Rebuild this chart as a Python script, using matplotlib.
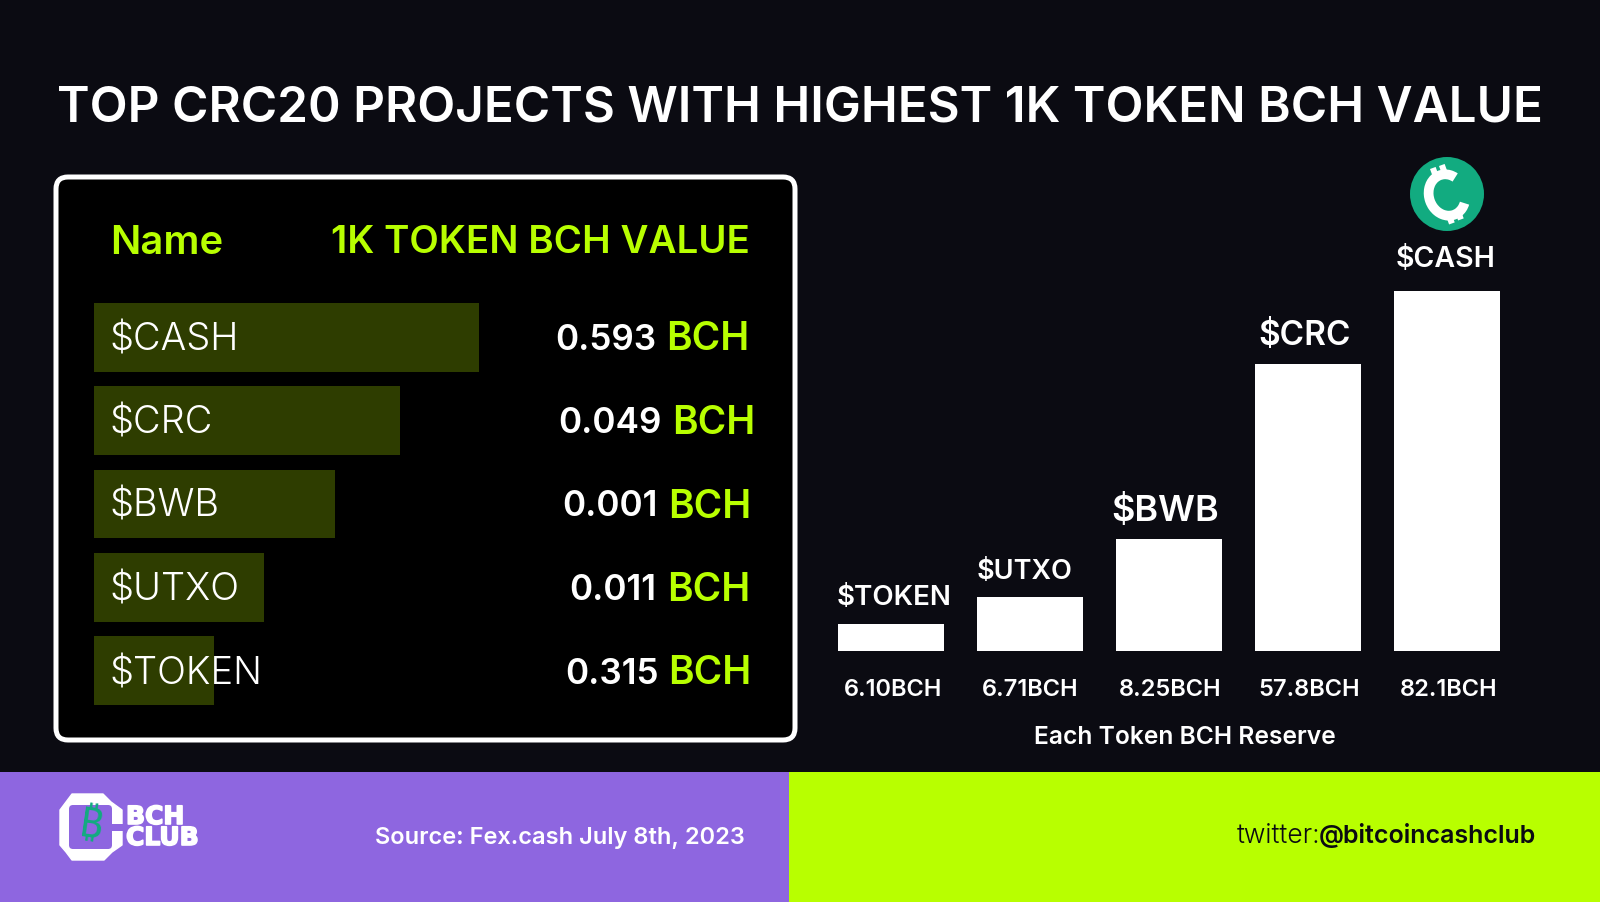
import numpy as np
import matplotlib
matplotlib.use("Agg")
import matplotlib.pyplot as plt
import matplotlib.patheffects as pe
from matplotlib.patches import FancyBboxPatch, Rectangle, Polygon, Circle, Arc

# ---- data ----
title = "TOP CRC20 PROJECTS WITH HIGHEST 1K TOKEN BCH VALUE"
table_names = ["$CASH", "$CRC", "$BWB", "$UTXO", "$TOKEN"]
table_values = ["0.593", "0.049", "0.001", "0.011", "0.315"]
table_bar_lengths = [100.0, 79.5, 62.6, 44.2, 31.2]
reserve_names = ["$TOKEN", "$UTXO", "$BWB", "$CRC", "$CASH"]
reserve_labels = ["6.10BCH", "6.71BCH", "8.25BCH", "57.8BCH", "82.1BCH"]
reserve_bar_heights = [26, 53, 110, 281, 353]
source = "Source: Fex.cash July 8th, 2023"

BG = "#0b0b12"; LIME = "#b8ff00"; PURPLE = "#8e66e0"; DARK = "#2e3d00"; TEAL = "#12ab80"
FONT = ["Inter", "DejaVu Sans"]
plt.rcParams["font.family"] = FONT

W, H = 1600, 902
fig = plt.figure(figsize=(W/100, H/100), dpi=100, facecolor=BG)

def axes_px(x0, y0, x1, y1, z=1):
    a = fig.add_axes([x0/W, 1-y1/H, (x1-x0)/W, (y1-y0)/H], zorder=z)
    a.patch.set_alpha(0); a.axis("off")
    return a

bg = axes_px(0, 0, W, H, 0)
bg.set_xlim(0, W); bg.set_ylim(H, 0)
bg.add_patch(FancyBboxPatch((56, 177), 739, 563, boxstyle="round,pad=0,rounding_size=12",
                            fc="black", ec="white", lw=3.6))
bg.add_patch(Rectangle((0, 772), 789, 130, fc=PURPLE, ec="none"))
bg.add_patch(Rectangle((789, 772), 811, 130, fc=LIME, ec="none"))

top = axes_px(0, 0, W, H, 5)
top.set_xlim(0, W); top.set_ylim(H, 0)
def T(x, y, s, size, color="white", weight="normal", ha="left", **kw):
    return top.text(x, y, s, fontsize=size, color=color, fontweight=weight, ha=ha, va="center", **kw)

T(800, 109, title, 35.6, weight=600, ha="center")
T(110, 243, "Name", 28.8, LIME, 600)
T(750, 243, "1K TOKEN BCH VALUE", 27.7, LIME, 600, ha="right")

ax1 = axes_px(94, 303, 479, 705, 2)
pos = np.arange(len(table_names))
ax1.barh(pos, table_bar_lengths, height=69/83.5, color=DARK, linewidth=0)
ax1.set_xlim(0, 100); ax1.set_ylim(len(pos)-1+69/83.5/2, -69/83.5/2)

num_right = [656, 662, 658, 656, 659]
bch_left = [666, 672, 668, 667, 668]
for i, (n, v) in enumerate(zip(table_names, table_values)):
    y = 340 + 83.5*i
    T(109, y, n, 27.4, weight=300)
    T(num_right[i], y, v, 25.3, weight=600, ha="right")
    T(bch_left[i], y, "BCH", 28, LIME, 600)

ax2 = axes_px(838, 291, 1500, 651, 2)
xs = np.arange(len(reserve_names))
bars = ax2.bar(xs, reserve_bar_heights, width=0.76, color="white", linewidth=0)
ax2.set_xlim(-0.38, 4.38); ax2.set_ylim(0, 353)
name_sizes = [20, 19.5, 26, 24, 20.5]
name_dx = [3, -5, -4, -4, -2]
name_dy = [26, 25, 28, 28, 31.5]
label_dx = [0, -2, -1, -2, -2]
for i, b in enumerate(bars):
    ax2.annotate(reserve_names[i], (b.get_x()+b.get_width()/2, b.get_height()),
                 xytext=(name_dx[i], name_dy[i]), textcoords="offset pixels", ha="center", va="center",
                 color="white", fontsize=name_sizes[i], fontweight=600)
    T(893 + 139.3*i + label_dx[i], 690, reserve_labels[i], 17, weight=600, ha="center")
T(1185, 738, "Each Token BCH Reserve", 17.7, weight=600, ha="center")

# coin
top.add_patch(Circle((1447, 194), 37, fc=TEAL, ec="none"))
top.add_patch(Arc((1447, 195), 36, 42, angle=-20, theta1=45, theta2=315, color="white", lw=7))
for (x, y) in [(1433, 173), (1442, 170), (1449, 220), (1458, 216)]:
    top.add_patch(Rectangle((x-3, y-4), 6, 9, angle=-20, fc="white", ec="none"))

# logo
ox = [60, 66, 72, 103, 111, 122, 122, 112, 104, 72, 66, 60]
oy = [810, 802, 794, 794, 802, 810, 845, 852, 860, 860, 852, 845]
top.add_patch(Polygon(list(zip(ox, oy)), closed=True, fc="white", ec="white", lw=1, joinstyle="round"))
top.add_patch(FancyBboxPatch((69, 805), 43, 44, boxstyle="round,pad=0,rounding_size=4", fc=PURPLE, ec="none"))
top.add_patch(Rectangle((110, 824), 13, 7, fc=PURPLE, ec="none"))
top.text(91, 827, "\u20bf", fontsize=30, color=TEAL, fontweight="bold", ha="center", va="center", rotation=-8,
         family=["Noto Sans", "Open Sans", "Roboto", "Lato", "Liberation Sans", "DejaVu Sans"])
stroke = [pe.withStroke(linewidth=1.2, foreground="white")]
T(126, 817, "BCH", 18, "white", "bold", family="DejaVu Sans", path_effects=stroke)
T(126, 838, "CLUB", 18, "white", "bold", family="DejaVu Sans", path_effects=stroke)

T(375, 838, source, 17, weight=600)
T(1237, 836, "twitter:", 19, "#0b0b12", 300)
T(1536, 836, "@bitcoincashclub", 18, "#0b0b12", 600, ha="right")

fig.savefig("out.png", dpi=100, facecolor=BG)
